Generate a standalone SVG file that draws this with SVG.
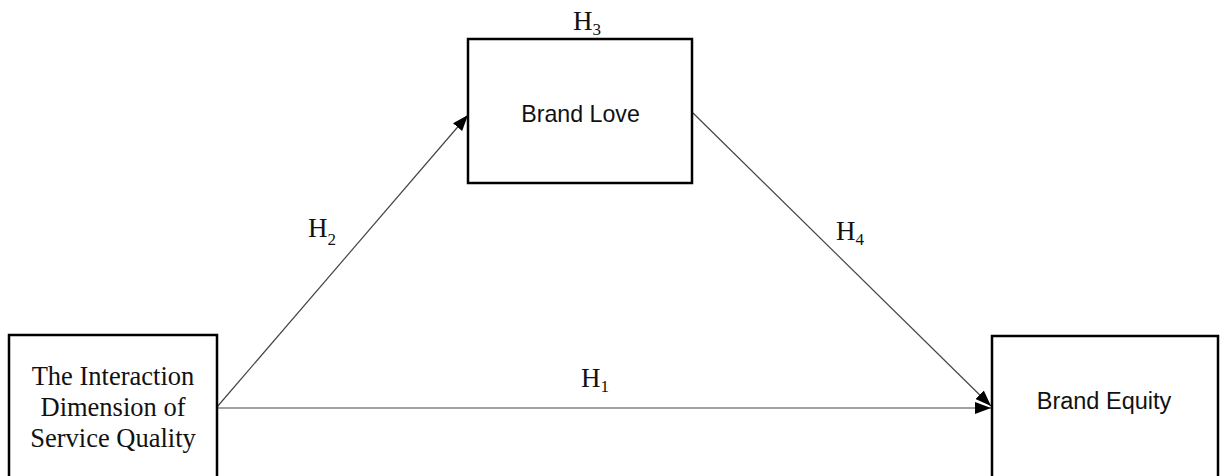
<svg xmlns="http://www.w3.org/2000/svg" width="1224" height="476" viewBox="0 0 1224 476">
<style>
.box{fill:#fff;stroke:#000;stroke-width:2.5}
.serif{font-family:"Liberation Serif","Times New Roman",serif;fill:#111}
.sans{font-family:"Liberation Sans",Arial,sans-serif;fill:#111}
.lbl{font-family:"Liberation Serif","Times New Roman",serif;font-size:27px;fill:#111}
.sub{font-size:17px}
.conn{stroke:#444;stroke-width:1.2;fill:none}
</style>
<defs>
<marker id="ah" viewBox="0 0 16 12" refX="16" refY="6" markerWidth="16" markerHeight="12" markerUnits="userSpaceOnUse" orient="auto">
<path d="M0,0 L16,6 L0,12 z" fill="#000"/>
</marker>
</defs>
<rect width="1224" height="476" fill="#fff"/>
<g id="connectors">
<line class="conn" x1="217" y1="408" x2="991" y2="408" stroke="#222" stroke-width="1.6" marker-end="url(#ah)"/>
<line class="conn" x1="217" y1="407" x2="468" y2="115" marker-end="url(#ah)"/>
<line class="conn" x1="693" y1="113" x2="991" y2="406" marker-end="url(#ah)"/>
</g>
<g id="node-interaction">
<rect class="box" x="9" y="335" width="208" height="150"/>
<text class="serif" font-size="26.5" text-anchor="middle"><tspan x="113" y="385">The Interaction</tspan><tspan x="113" y="416">Dimension of</tspan><tspan x="113" y="447">Service Quality</tspan></text>
</g>
<g id="node-brandlove">
<rect class="box" x="468" y="39" width="224" height="144"/>
<text class="sans" font-size="23.2" x="580.5" y="122" text-anchor="middle">Brand Love</text>
</g>
<g id="node-brandequity">
<rect class="box" x="992" y="336" width="226" height="150"/>
<text class="sans" font-size="23.5" x="1104" y="409" text-anchor="middle">Brand Equity</text>
</g>
<g id="labels">
<text class="lbl" x="573" y="30">H<tspan class="sub" dy="5">3</tspan></text>
<text class="lbl" x="308" y="237">H<tspan class="sub" dy="8">2</tspan></text>
<text class="lbl" x="581" y="387">H<tspan class="sub" dy="5">1</tspan></text>
<text class="lbl" x="836" y="240">H<tspan class="sub" dy="5">4</tspan></text>
</g>
</svg>
